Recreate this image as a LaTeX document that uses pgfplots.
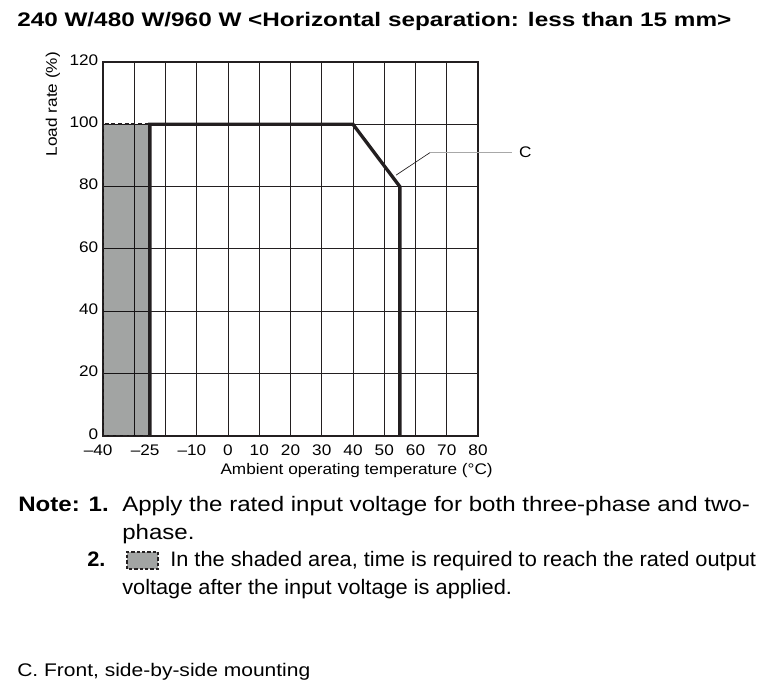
\documentclass[border=0pt]{standalone}
\usepackage{fontspec}
\setmainfont{Liberation Sans}[FakeStretch=1.12]
\newfontfamily\titlefont{Liberation Sans}[FakeStretch=1.24]
\newfontfamily\widefont{Liberation Sans}[FakeStretch=1.15]
\newfontfamily\narrowfont{Liberation Sans}[FakeStretch=1.04]
\usepackage{pgfplots}
\pgfplotsset{compat=1.18}
\definecolor{ink}{HTML}{231F20}
\definecolor{shade}{HTML}{A2A4A3}
\definecolor{leader}{HTML}{A8A8A8}

\begin{document}
\begin{tikzpicture}[x=0.75pt,y=0.75pt]
\useasboundingbox (0,0) rectangle (771,695);
\node[anchor=base west, inner sep=0pt, font=\titlefont\fontsize{14.7}{17}\selectfont\bfseries]
  at (17,668) {240 W/480 W/960 W <Horizontal separation: less than 15 mm>};

\begin{axis}[
  at={(77.25pt,194.25pt)}, anchor=south west,
  scale only axis, width=281.25pt, height=280.5pt,
  xmin=-40, xmax=80, ymin=0, ymax=120,
  xtick={-40,-30,...,80},
  xticklabels={\llap{–}40,{},{},\llap{–}10,0,10,20,30,40,50,60,70,80},
  extra x ticks={-25},
  extra x tick labels={\llap{–}25},
  extra x tick style={grid=none},
  ytick={0,20,...,120},
  /pgf/number format/assume math mode=true,
  grid=major,
  major grid style={ink, line width=0.75pt},
  axis line style={ink, line width=1.5pt},
  major tick length=0pt,
  tick label style={font=\fontsize{11.5}{13}\selectfont},
  xticklabel style={yshift=-3pt},
  yticklabel style={yshift=1.5pt},
  xlabel={Ambient operating temperature (°C)},
  ylabel={Load rate (\%)},
  every axis x label/.style={at={(axis description cs:1.04,-0.104)}, anchor=base east, inner sep=0pt, font=\fontsize{11.5}{13}\selectfont},
  every axis y label/.style={at={(axis description cs:-0.123,1.027)}, rotate=90, anchor=base east, inner sep=0pt, font=\fontsize{11.5}{13}\selectfont},
  clip=false,
]
% shaded start-up region (multiply keeps the grid visible through it)
\addplot[draw=none, fill=shade, blend mode=multiply]
  coordinates {(-40,0) (-40,100) (-25,100) (-25,0)} \closedcycle;
\addplot[ink, line width=1.5pt, dash pattern=on 3pt off 2pt]
  coordinates {(-40,0) (-40,100) (-25,100) (-25,0) (-40,0)};
% derating curve C
\addplot[ink, line width=2.5pt, line join=miter]
  coordinates {(-25,0) (-25,100) (40,100) (55,80) (55,0)};
% leader to label C
\addplot[ink, line width=0.5pt] coordinates {(53.8,83.7) (64.6,90.9)};
\addplot[leader, line width=1pt] coordinates {(64.6,90.9) (90.9,90.9)};
\node[anchor=west, inner sep=0pt, font=\fontsize{11.5}{13}\selectfont] at (axis cs:93.1,90.9) {C};
\end{axis}

\begin{scope}[every node/.style={anchor=base west, inner sep=0pt}]
\node[font=\widefont\fontsize{15.7}{18}\selectfont\bfseries] at (18,183) {Note: 1.};
\node[font=\widefont\fontsize{15.7}{18}\selectfont] at (122,183) {Apply the rated input voltage for both three-phase and two-};
\node[font=\widefont\fontsize{15.7}{18}\selectfont] at (122,155) {phase.};
\node[font=\narrowfont\fontsize{15.7}{18}\selectfont\bfseries] at (87,128) {2.};
\node[font=\narrowfont\fontsize{15.7}{18}\selectfont] at (170,128) {In the shaded area, time is required to reach the rated output};
\node[font=\narrowfont\fontsize{15.7}{18}\selectfont] at (122,100) {voltage after the input voltage is applied.};
\node[font=\widefont\fontsize{13.7}{16}\selectfont] at (17,18) {C. Front, side-by-side mounting};
\end{scope}
\draw[ink, fill=shade, line width=1.5pt, dash pattern=on 2.5pt off 1.5pt]
  (127,126) rectangle (158,143);
\end{tikzpicture}
\end{document}
